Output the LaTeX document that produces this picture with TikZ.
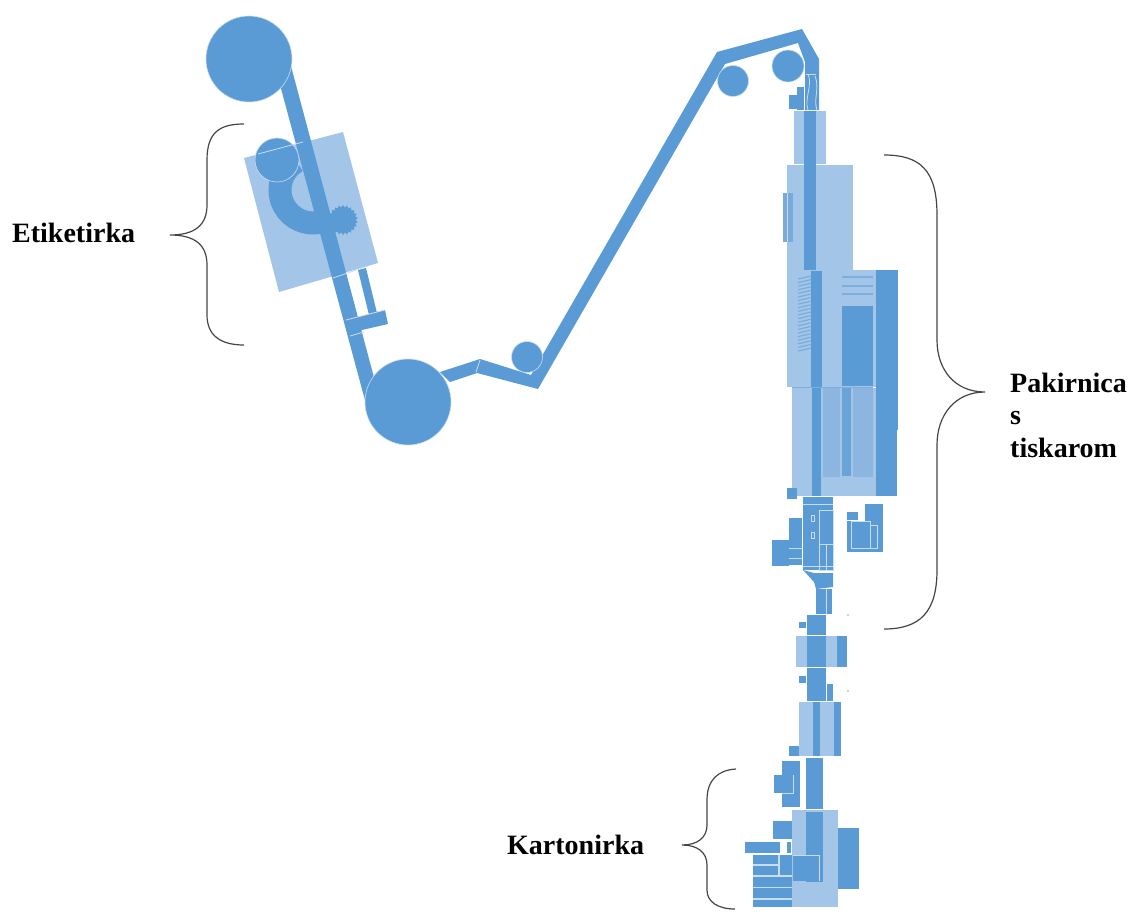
\documentclass[tikz,border=0pt]{standalone}
\usepackage{fontspec}
\setmainfont{Liberation Serif}
\usetikzlibrary{shapes.geometric}

\definecolor{partdark}{HTML}{5B9BD5}
\definecolor{partmid}{HTML}{8CB6E0}
\definecolor{partlight}{HTML}{A3C5E8}
\definecolor{partseam}{HTML}{C9DDF2}
\definecolor{bracegray}{HTML}{454545}

\tikzset{
    darkpart/.style={fill=partdark},
    midpart/.style={fill=partmid},
    lightpart/.style={fill=partlight},
    seam/.style={draw=partseam, line width=0.8pt},
    stripe/.style={draw=partmid!70!partdark, line width=2.2pt},
    bracket/.style={draw=bracegray, line width=1.2pt},
    sectionlabel/.style={font=\fontsize{28}{32}\selectfont\bfseries, inner sep=0pt, anchor=base west, align=left}
}

\begin{document}
\begin{tikzpicture}[x=1pt, y=-1pt]
        \useasboundingbox (0,0) rectangle (1129,911);

        % Draw label machine housing
        \fill[lightpart] (244,158) -- (343,132) -- (378,263) -- (279,292) -- cycle;

        % Draw first belt
        \fill[darkpart] (276,70) -- (291,66) -- (380,400) -- (366,404) -- cycle;

        % Draw label machine parts
        \draw[partdark, line width=23pt] (296.5,161.4) arc (-120:-282:33);
        \fill[darkpart] (358,270) -- (366,268) -- (378,317) -- (370,319) -- cycle;
        \fill[darkpart] (346,320) -- (385,310) -- (388,324) -- (349,333) -- cycle;
        \node[star, star points=22, star point ratio=1.18, minimum size=30pt, inner sep=0pt, fill=partdark] (gear) at (343,220) {};
        \filldraw[fill=partdark, draw=partseam, line width=0.6pt] (277,160) circle (22);
        \draw[seam] (258,154) -- (303,142);
        \draw[seam] (333,278) -- (368,266);
        \draw[seam] (346,320) -- (385,310);
        \draw[seam] (350,336) -- (364,332);

        % Draw second belt
        \fill[darkpart] (440,372) -- (480,359) -- (531,375) -- (717,52) -- (802,29) -- (819,59) -- (819,110)
            -- (805,110) -- (805,62) -- (798,43) -- (725,64) -- (538,389) -- (477,373) -- (450,382) -- cycle;
        \draw[seam] (480,360) -- (476,372);

        % Draw rollers
        \filldraw[fill=partdark, draw=partseam, line width=0.6pt] (249,59) circle (43);
        \filldraw[fill=partdark, draw=partseam, line width=0.6pt] (408,402) circle (43);
        \filldraw[fill=partdark, draw=partseam, line width=0.6pt] (527,357) circle (15.5);
        \filldraw[fill=partdark, draw=partseam, line width=0.6pt] (733,81) circle (15.5);
        \filldraw[fill=partdark, draw=partseam, line width=0.6pt] (788,66) circle (16);

        % Draw top cluster
        \fill[darkpart] (797,87) rectangle (804,110);
        \fill[darkpart] (789,95) rectangle (797,109);
        \draw[seam] (808,74) .. controls (813,85) and (804,98) .. (808,110);
        \draw[seam] (806,74) -- (816,74);
        \draw[seam] (815,76) .. controls (820,88) and (813,100) .. (817,110);

        % Draw upper packing housings
        \fill[lightpart] (794,111) rectangle (826,164);
        \fill[lightpart] (787,165) rectangle (853,270);
        \fill[darkpart] (804,111) rectangle (816,270);
        \fill[partmid!60!partdark] (783,193) rectangle (793,242);
        \draw[seam] (787,193) -- (787,242);

        % Draw printer housing
        \fill[lightpart] (787,270) rectangle (876,387);
        \fill[darkpart] (811,271) rectangle (822,387);
        \fill[darkpart] (842,306) rectangle (873,386);
        \fill[darkpart] (876,270) rectangle (898,430);
        \fill[darkpart] (876,430) rectangle (897,496);
        \draw[stripe] (842,277) -- (873,277);
        \draw[stripe] (842,286) -- (873,286);
        \draw[stripe] (842,294) -- (873,294);
        \foreach \i in {0,...,20} {
            \draw[partmid!60!partdark, line width=1.1pt] (798,{279+3.6*\i}) -- (811,{276+3.6*\i});
        }

        % Draw lower packing housing
        \fill[lightpart] (792,388) rectangle (876,496);
        \draw[stripe, line width=1pt] (792,387) -- (873,387);
        \fill[darkpart] (812,388) rectangle (821,496);
        \fill[midpart] (823,388) rectangle (840,477);
        \fill[darkpart, fill=partmid!30!partdark] (842,388) rectangle (851,476);
        \fill[midpart] (853,388) rectangle (873,477);
        \fill[darkpart] (787,488) rectangle (797,499);

        % Draw conveyor section
        \fill[darkpart] (803,497) rectangle (833,570);
        \draw[seam] (803,504) -- (833,504);
        \fill[darkpart] (789,518) rectangle (802,565);
        \fill[darkpart] (772,540) rectangle (789,566);
        \fill[darkpart] (803,570) -- (814,573) -- (833,573) -- (833,587) -- (816,589) -- (814,582) -- cycle;
        \fill[darkpart] (816,589) rectangle (832,614);
        \draw[seam] (819,510) rectangle (833,570);
        \draw[seam] (819,544) -- (833,544);
        \draw[seam] (826,544) -- (826,570);
        \draw[seam] (803,566) -- (833,566);
        \draw[seam] (814,515) -| (811,521) -| (814,515);
        \draw[seam] (814,532) -| (811,538) -| (814,532);
        \draw[seam] (789,548) -- (802,548);
        \draw[seam] (789,558) -- (802,558);
        \draw[seam] (826,589) -- (826,614);

        % Draw side cluster
        \fill[darkpart] (847,512) rectangle (858,520);
        \fill[darkpart] (865,504) rectangle (883,525);
        \fill[darkpart] (847,521) rectangle (883,552);
        \draw[seam] (851,521) rectangle (870,548);
        \draw[seam] (870,525) rectangle (877,548);

        % Draw middle section
        \fill[darkpart] (807,615) rectangle (826,635);
        \fill[darkpart] (799,622) rectangle (806,628);
        \fill[lightpart] (796,636) rectangle (837,667);
        \fill[darkpart] (807,636) rectangle (826,667);
        \fill[darkpart] (837,636) rectangle (847,667);
        \fill[darkpart] (807,668) rectangle (826,701);
        \fill[darkpart] (799,676) rectangle (806,683);
        \fill[darkpart] (827,684) rectangle (833,701);
        \fill[lightpart] (799,702) rectangle (841,756);
        \fill[darkpart] (813,702) rectangle (820,756);
        \fill[darkpart] (834,702) rectangle (841,756);
        \fill[darkpart] (789,746) rectangle (799,756);
        \fill[bracegray] (848,615) circle (0.6);
        \fill[bracegray] (848,691) circle (0.6);

        % Draw carton machine
        \fill[darkpart] (806,758) rectangle (823,809);
        \fill[darkpart] (782,761) rectangle (800,807);
        \fill[darkpart] (774,775) rectangle (793,793);
        \draw[seam] (793,775) -- (793,793) -- (782,793);
        \fill[lightpart] (792,810) rectangle (838,907);
        \fill[darkpart] (806,812) rectangle (823,882);
        \fill[darkpart] (793,855) rectangle (819,881);
        \draw[seam] (793,855) -- (819,855) -- (819,881);
        \fill[darkpart] (838,828) rectangle (859,889);
        \fill[darkpart] (773,821) rectangle (792,839);
        \fill[darkpart] (745,842) rectangle (780,853);
        \fill[darkpart] (787,842) rectangle (791,853);
        \fill[partseam] (753,855) rectangle (792,907);
        \fill[darkpart] (753,855) rectangle (778,864);
        \fill[darkpart] (753,866) rectangle (778,875);
        \fill[darkpart] (780,855) rectangle (792,875);
        \fill[darkpart] (753,877) rectangle (792,887);
        \fill[darkpart] (753,888) rectangle (792,898);
        \fill[darkpart] (753,900) rectangle (792,907);

        % Draw brackets
        \draw[bracket] (244,124) .. controls (220,124) and (207,132) .. (207,160) -- (207,205)
            .. controls (207,225) and (195,235) .. (170,235) .. controls (195,235) and (207,245) .. (207,265)
            -- (207,315) .. controls (207,335) and (220,345) .. (244,345);
        \draw[bracket] (884,155) .. controls (920,155) and (937,170) .. (937,215) -- (937,340)
            .. controls (937,370) and (955,392) .. (985,392) .. controls (955,392) and (937,415) .. (937,445)
            -- (937,570) .. controls (937,612) and (920,629) .. (884,629);
        \draw[bracket] (736,769) .. controls (718,770) and (707,780) .. (707,800) -- (707,825)
            .. controls (707,838) and (697,845) .. (682,845) .. controls (697,845) and (707,852) .. (707,865)
            -- (707,890) .. controls (707,902) and (718,909) .. (735,909);

        % Mark sections
        \node[sectionlabel] (etiketirka) at (12,242) {Etiketirka};
        \node[sectionlabel] (pakirnica) at (1010,392) {Pakirnica};
        \node[sectionlabel] (pakirnicas) at (1010,424) {s};
        \node[sectionlabel] (tiskarom) at (1010,457) {tiskarom};
        \node[sectionlabel] (kartonirka) at (507,854) {Kartonirka};
    \end{tikzpicture}
\end{document}
